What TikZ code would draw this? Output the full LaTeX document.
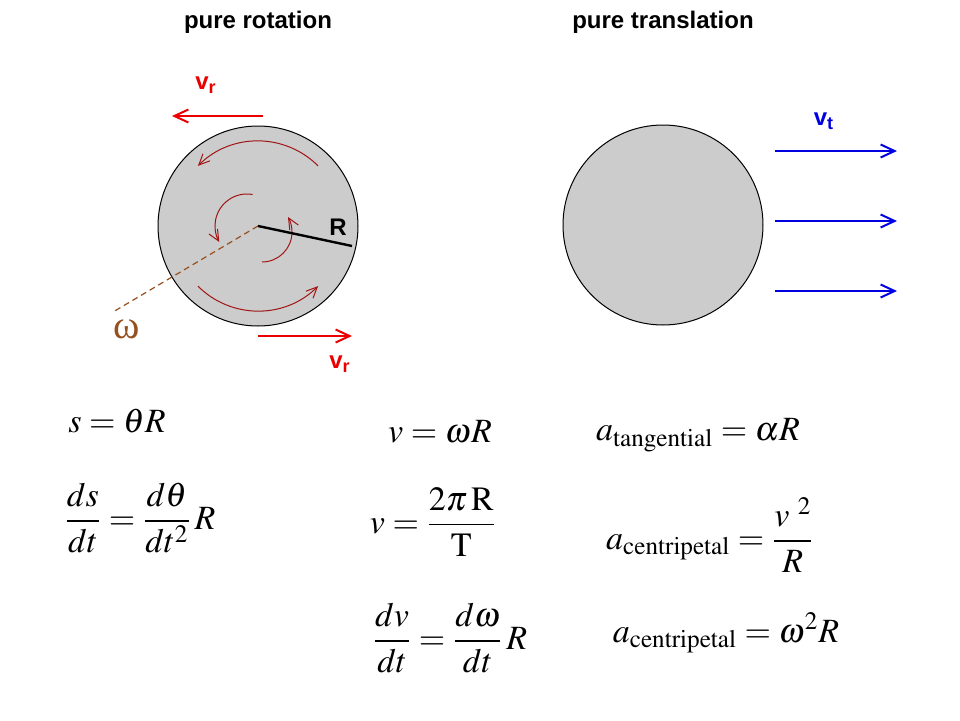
\documentclass[tikz,border=0pt]{standalone}
\usepackage{mathptmx}
\usepackage{fontspec}
\setmainfont{Liberation Serif}
\setsansfont{Liberation Sans}
\newfontfamily\greekfont{Liberation Serif}
\usetikzlibrary{arrows.meta}
\definecolor{vred}{RGB}{235,0,0}
\definecolor{vblue}{RGB}{0,0,225}
\definecolor{spinred}{RGB}{160,20,20}
\definecolor{axisbrown}{RGB}{150,80,30}
\begin{document}
\begin{tikzpicture}[x=0.5pt,y=0.5pt,
    title/.style={font=\sffamily\bfseries\fontsize{12}{14}\selectfont},
    lbl/.style={font=\sffamily\bfseries\fontsize{12}{14}\selectfont},
    wheel/.style={draw=black,line width=0.5pt,fill=black!20},
    vel/.style={line width=1pt,-{Straight Barb[length=7pt,width=6.5pt]}},
    spin/.style={spinred,line width=0.5pt,-{Straight Barb[length=5.5pt,width=5pt]}},
    eq/.style={font=\fontsize{17}{20}\selectfont}]
    \useasboundingbox (0,0) rectangle (960,720);
    \node[title] (rottitle) at (258,698) {pure rotation};
    \node[title] (tratitle) at (663,698) {pure translation};
    % rotating wheel
    \coordinate (rot) at (258,494);
    \coordinate (hubL) at (247,494);
    \coordinate (hubR) at (262,488);
    \draw[wheel] (rot) circle (100);
    \draw[axisbrown,dash pattern=on 3pt off 2pt,line width=0.6pt] (rot) -- (113,408) coordinate (axisend);
    \node[text=axisbrown,font=\greekfont\fontsize{20}{22}\selectfont] (omega) at (127,391) {ω};
    \draw[spin] ([shift={(45:85)}]rot) arc[start angle=45,end angle=135,radius=85];
    \draw[spin] ([shift={(225:85)}]rot) arc[start angle=225,end angle=315,radius=85];
    \draw[spin] ([shift={(80:32)}]hubL) arc[start angle=80,end angle=210,radius=32];
    \draw[spin] ([shift={(-90:30)}]hubR) arc[start angle=-90,end angle=30,radius=30];
    \draw[line width=1.2pt] (rot) -- (352,474) coordinate (rim);
    \node[font=\sffamily\bfseries\fontsize{12}{14}\selectfont] (R) at (338,493) {R};
    \draw[vel,vred] (263,604) -- (172,604);
    \node[lbl,text=vred] (vrtop) at (206,635) {v\textsubscript{r}};
    \draw[vel,vred] (258,384) -- (352,384);
    \node[lbl,text=vred] (vrbot) at (340,356) {v\textsubscript{r}};
    % translating wheel
    \coordinate (tra) at (663,495);
    \draw[wheel] (tra) circle (100);
    \foreach \y in {569,499,429}
        \draw[vel,vblue] (775,\y) -- (897,\y);
    \node[lbl,text=vblue] (vt) at (824,599) {v\textsubscript{t}};
    % equations
    \node[eq] (arc) at (117,299) {$s=\theta R$};
    \node[eq] (dsdt) at (140,202) {$\displaystyle\frac{ds}{dt}=\frac{d\theta}{dt^2}\,R$};
    \node[eq] (vlin) at (440,288) {$v=\omega R$};
    \node[eq] (vper) at (433,198) {$v=\displaystyle\frac{2\pi\,\mathrm{R}}{\mathrm{T}}$};
    \node[eq] (dvdt) at (450,82) {$\displaystyle\frac{dv}{dt}=\frac{d\omega}{dt}\,R$};
    \node[eq] (atan) at (698,285) {$a_{\mathrm{tangential}}=\alpha R$};
    \node[eq] (acen) at (710,185) {$a_{\mathrm{centripetal}}=\displaystyle\frac{v^{\;\,2}}{R}$};
    \node[eq] (acenw) at (726,87) {$a_{\mathrm{centripetal}}=\omega^2 R$};
\end{tikzpicture}
\end{document}
